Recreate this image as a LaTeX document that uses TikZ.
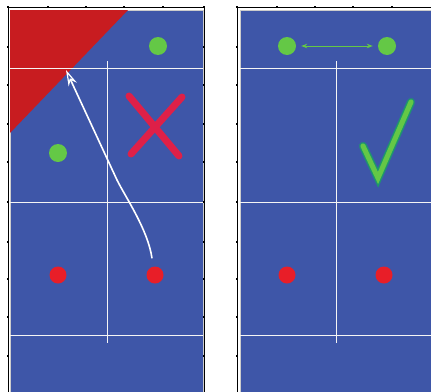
\documentclass[tikz,border=0pt]{standalone}
\usepackage{tikz}
\usetikzlibrary{arrows.meta}
\definecolor{court}{RGB}{62,86,168}
\definecolor{zone}{RGB}{200,28,32}
\definecolor{ball}{RGB}{100,200,70}
\definecolor{robot}{RGB}{232,30,40}
\definecolor{cross}{RGB}{222,32,72}
\definecolor{tick}{RGB}{30,150,110}
\tikzset{
  field/.style={fill=court, draw=gray!40, line width=0.6pt},
  frame/.style={draw=black, line width=0.8pt},
  tickmark/.style={fill=black, minimum size=2.2pt, inner sep=0pt, rectangle},
  court line/.style={draw=white!92!gray, line width=1pt},
  gball/.style={circle, fill=ball, minimum size=18pt, inner sep=0pt},
  rball/.style={circle, fill=robot, minimum size=17pt, inner sep=0pt},
  route/.style={draw=white, line width=1.6pt,
    -{Stealth[open, length=16pt, width=9pt, inset=5pt, line width=1.2pt]}},
  pass/.style={draw=ball, line width=0.9pt, {Stealth[length=6pt]}-{Stealth[length=6pt]}},
  stroke/.style={line width=7pt, line cap=round}
}
\begin{document}
\begin{tikzpicture}[x=1pt, y=-1pt]
  \useasboundingbox[fill=white] (0,0) rectangle (431,391);

  % left panel
  \fill[field] (10,10) rectangle (203,392);
  \fill[zone] (10,10) -- (128,10) -- (10,133) -- cycle;
  \draw[frame] (8,392) -- (8,7) -- (204,7) -- (204,392);
  \foreach \x in {8,48,86,124,163,204}
    \node[tickmark] at (\x,7) {};
  \foreach \y in {47,85,124,162,202,242,279,317,356}{
    \node[tickmark] at (8,\y) {};
    \node[tickmark] at (204,\y) {};
  }
  \draw[court line] (10,68) -- (203,68);
  \draw[court line] (10,202) -- (203,202);
  \draw[court line] (10,335) -- (203,335);
  \draw[court line] (107,61) -- (107,343);

  \node[gball] (ga) at (158,46) {};
  \node[gball] (gb) at (58,153) {};
  \node[rball] (ra) at (58,275) {};
  \node[rball] (rb) at (155,275) {};

  \draw[cross, stroke] (129,96) -- (179,156);
  \draw[cross, stroke] (182,97) -- (131,154);

  \coordinate (aim) at (66,70);
  \coordinate (bend) at (117,180);
  \draw[route] ([xshift=-3pt, yshift=8pt]rb.north)
    .. controls (148,230) and (126,198) .. (bend) -- (aim);

  % right panel
  \fill[field] (240,10) rectangle (432,392);
  \draw[frame] (237,392) -- (237,7) -- (432,7);
  \foreach \x in {237,277,315,353,392}
    \node[tickmark] at (\x,7) {};
  \foreach \y in {47,85,124,162,202,242,279,317,356}
    \node[tickmark] at (237,\y) {};
  \draw[court line] (240,68) -- (431,68);
  \draw[court line] (240,202) -- (431,202);
  \draw[court line] (240,335) -- (431,335);
  \draw[court line] (336,61) -- (336,343);

  \node[gball] (gc) at (287,46) {};
  \node[gball] (gd) at (387,46) {};
  \draw[pass] ([xshift=5pt]gc.east) -- ([xshift=-5pt]gd.west);

  \node[rball] (re) at (287,275) {};
  \node[rball] (rf) at (384,275) {};

  \draw[tick, stroke, line width=8pt] (363,146) -- (378,178) -- (411,102);
  \draw[ball, stroke, line width=5pt] (363,146) -- (378,178) -- (411,102);
\end{tikzpicture}
\end{document}
